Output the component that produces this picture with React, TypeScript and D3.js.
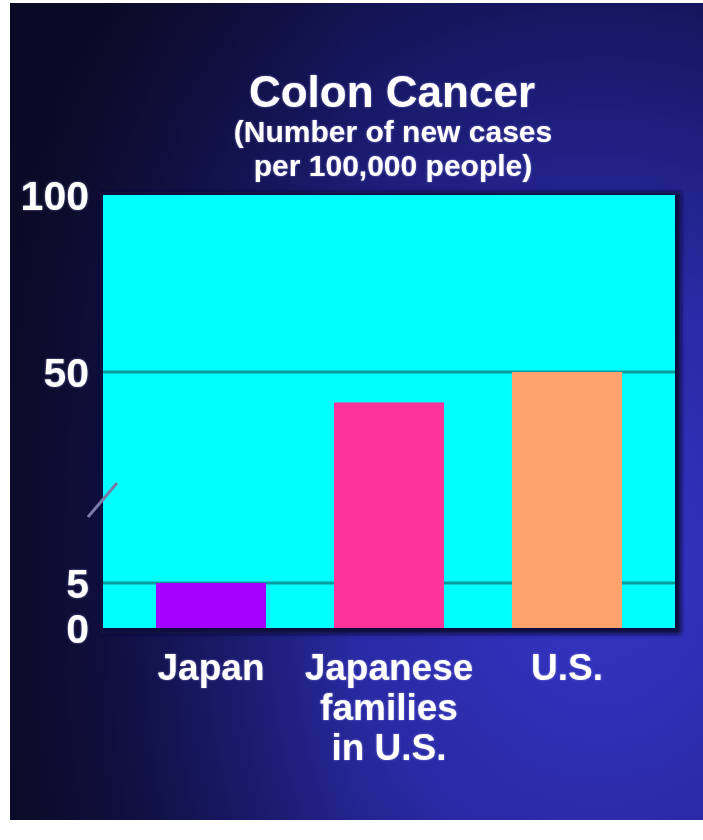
import React from "react";
import * as d3 from "d3";

const categories = ["Japan", "Japanese families in U.S.", "U.S."];
const categoryLines = [["Japan"], ["Japanese", "families", "in U.S."], ["U.S."]];
const values = [5, 43.5, 50];
const barColors = ["#a300ff", "#ff3399", "#ffa26e"];
const tickValues = [0, 5, 50, 100];
const gridValues = [5, 50];
const titleText = "Colon Cancer";
const subtitleLines = ["(Number of new cases", "per 100,000 people)"];

export default function App() {
  const W = 703, H = 840;
  const plot = { left: 103, right: 675, top: 195, bottom: 628 };
  const y = d3.scaleLinear().domain([0, 5, 50, 100]).range([628, 583, 372, 195]);
  const x = d3
    .scaleBand<string>()
    .domain(categories)
    .range([plot.left, plot.right])
    .paddingInner(0.382)
    .paddingOuter(0.298);
  const font = "'Liberation Sans', Arial, sans-serif";

  return (
    <svg
      width={W}
      height={H}
      style={{ position: "absolute", left: 0, top: 0, display: "block" }}
      fontFamily={font}
    >
      <defs>
        <radialGradient id="bg" cx="0.85" cy="0.7" r="1.0" fx="0.85" fy="0.7">
          <stop offset="0" stopColor="#3434c4" />
          <stop offset="0.35" stopColor="#2a2aa6" />
          <stop offset="0.7" stopColor="#161660" />
          <stop offset="1" stopColor="#0b0b2a" />
        </radialGradient>
        <linearGradient id="bgl" x1="0" x2="1" y1="0" y2="0">
          <stop offset="0" stopColor="#0a0a24" stopOpacity="0.8" />
          <stop offset="0.25" stopColor="#0a0a24" stopOpacity="0.3" />
          <stop offset="0.5" stopColor="#0a0a24" stopOpacity="0" />
        </linearGradient>
        <filter id="glow" x="-10%" y="-10%" width="120%" height="120%">
          <feGaussianBlur in="SourceAlpha" stdDeviation="1.2" result="b" />
          <feFlood floodColor="#b0b0ff" floodOpacity="0.6" />
          <feComposite in2="b" operator="in" result="g" />
          <feMerge>
            <feMergeNode in="g" />
            <feMergeNode in="SourceGraphic" />
          </feMerge>
        </filter>
        <filter id="shadow" x="-5%" y="-5%" width="110%" height="110%">
          <feGaussianBlur stdDeviation="2" />
        </filter>
      </defs>
      <rect x={0} y={0} width={W} height={H} fill="#ffffff" />
      <rect x={10} y={3} width={693} height={817} fill="url(#bg)" />
      <rect x={10} y={3} width={693} height={817} fill="url(#bgl)" />

      {/* Title */}
      <g fill="#ffffff" textAnchor="middle" fontWeight="bold" filter="url(#glow)">
        <text x={392} y={107} fontSize={44}>{titleText}</text>
        {subtitleLines.map((s, i) => (
          <text key={s} x={393} y={142 + i * 34} fontSize={30}>{s}</text>
        ))}
      </g>

      {/* plot shadow */}
      <rect
        x={plot.left - 3}
        y={plot.top - 3}
        width={plot.right - plot.left + 9}
        height={plot.bottom - plot.top + 9}
        fill="#0e0e3c"
        filter="url(#shadow)"
      />
      <rect
        x={plot.left}
        y={plot.top}
        width={plot.right - plot.left}
        height={plot.bottom - plot.top}
        fill="#00ffff"
      />
      {gridValues.map((v) => (
        <line
          key={v}
          x1={plot.left}
          x2={plot.right}
          y1={y(v)}
          y2={y(v)}
          stroke="#0a9c9c"
          strokeWidth={3}
        />
      ))}

      {categories.map((c, i) => (
        <rect
          key={c}
          x={x(c)}
          y={y(values[i])}
          width={x.bandwidth()}
          height={y(0) - y(values[i])}
          fill={barColors[i]}
        />
      ))}

      {/* axis break mark */}
      <line x1={88} y1={517} x2={117} y2={483} stroke="#7a7aa8" strokeWidth={3} />

      {/* y tick labels */}
      <g fill="#ffffff" fontWeight="bold" textAnchor="end" fontSize={41} filter="url(#glow)">
        {tickValues.map((t) => (
          <text key={t} x={89} y={y(t)} dy="0.36em">{t}</text>
        ))}
      </g>

      {/* category labels */}
      <g fill="#ffffff" fontWeight="bold" textAnchor="middle" fontSize={37} filter="url(#glow)">
        {categories.map((c, i) =>
          categoryLines[i].map((ln, j) => (
            <text key={c + j} x={(x(c) as number) + x.bandwidth() / 2} y={680 + j * 40}>
              {ln}
            </text>
          ))
        )}
      </g>
    </svg>
  );
}
